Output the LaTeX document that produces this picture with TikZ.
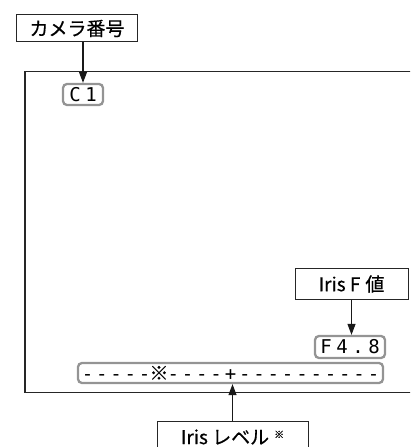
\documentclass[tikz,border=0pt]{standalone}
\usepackage{fontspec}
\newfontfamily\jp[FakeBold=0.5]{Noto Sans CJK JP}
\newfontfamily\mono{DejaVu Sans Mono}
\usetikzlibrary{arrows.meta}
\newcommand\cw[1]{\makebox[16bp]{#1}}
\newcommand\bw[1]{\makebox[14.3bp]{#1}}
\begin{document}
\begin{tikzpicture}[x=1bp,y=-1bp,
  lbl/.style={draw=black!85, line width=1bp, fill=white, inner sep=0pt,
    font=\jp\fontsize{19bp}{21bp}\selectfont},
  osd/.style={draw=black!42, line width=2.3bp, rounded corners=4bp, inner sep=0pt,
    font=\mono\fontsize{19bp}{20bp}\selectfont},
  arr/.style={-{Triangle[length=11bp,width=8bp]}, line width=1.1bp, black!90},
  screen/.style={line width=1.2bp, black!85}]
\useasboundingbox (0,0) rectangle (410,447);
\clip (0,0) rectangle (410,447);
% screen frame
\draw[screen] (412,71.5) -- (25,71.5) -- (25,392.5) -- (412,392.5);
% on-screen items
\node[osd, minimum width=40bp, minimum height=21bp] (c1) at (83,94.5) {\cw{C}\cw{1}};
\node[osd, minimum width=70bp, minimum height=22bp] (f48) at (350,347) {\cw{F}\cw{4}\cw{.}\cw{8}};
\node[osd, minimum width=305bp, minimum height=20bp] (bar) at (230.5,373)
  {\bw{-}\bw{-}\bw{-}\bw{-}\bw{-}\bw{\jp ※}\bw{-}\bw{-}\bw{-}\bw{-}\bw{+}\bw{-}\bw{-}\bw{-}\bw{-}\bw{-}\bw{-}\bw{-}\bw{-}\bw{-}\bw{-}};
% labels
\node[lbl, minimum width=120bp, minimum height=27bp] (cam) at (77,28.5) {カメラ番号};
\node[lbl, minimum width=113bp, minimum height=31bp] (irisf) at (351.5,284) {Iris F\hspace{5bp}値};
\node[lbl, minimum width=151bp, minimum height=31bp] (irisl) at (232.5,437)
  {Iris レベル\hspace{5bp}\raisebox{6bp}{\fontsize{10bp}{10bp}\selectfont ※}};
% connectors
\draw[arr] (c1.north |- cam.south) -- (c1.north);
\draw[arr] (irisf.south) -- (irisf.south |- f48.north);
\draw[arr] (irisl.north) -- (irisl.north |- bar.south);
\end{tikzpicture}
\end{document}
